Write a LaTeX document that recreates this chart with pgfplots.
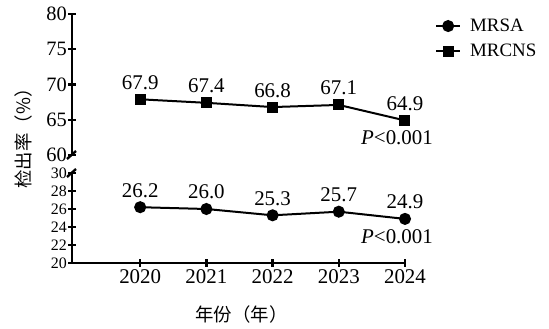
\documentclass[border=0pt]{standalone}
\usepackage{fontspec}
\setmainfont{Liberation Serif}
\newfontfamily\cjk{Noto Sans CJK SC}
\usepackage{pgfplots}
\pgfplotsset{compat=1.18}
\begin{document}
\begin{tikzpicture}
\useasboundingbox (-72bp,-66bp) rectangle (477bp,263bp);
\pgfplotsset{
 common/.style={
  scale only axis, width=333bp, clip=false,
  xmin=2018.97, xmax=2024,
  axis line style={-, line width=2.4bp},
  tick style={line width=2.4bp, black},
  major tick length=8bp,
  tick align=outside,
  /pgf/number format/assume math mode=true,
  xticklabel style={font=\fontsize{21}{21}\selectfont, inner sep=2bp, /pgf/number format/1000 sep={}},
  yticklabel style={font=\fontsize{20.5}{20.5}\selectfont, inner sep=0pt, xshift=-1bp},
  every axis plot/.append style={line width=2bp, black},
  nodes near coords={\pgfmathprintnumber[fixed,fixed zerofill,precision=1]{\pgfplotspointmeta}},
  point meta=y,
  every node near coord/.append style={font=\fontsize{21}{21}\selectfont, anchor=base, yshift=10bp, inner sep=0pt},
 }
}
% lower axis: MRSA
\begin{axis}[common, at={(0,0)}, anchor=south west, height=90bp,
  ymin=20, ymax=30, ytick={20,22,...,30},
  yticklabel style={font=\fontsize{16}{16}\selectfont},
  xtick={2020,2021,2022,2023,2024},
  axis x line=bottom, axis y line=left,
  x axis line style={-}, y axis line style={-}]
\addplot[mark=*, mark size=5bp] coordinates {(2020,26.2) (2021,26.0) (2022,25.3) (2023,25.7) (2024,24.9)};
\node[anchor=base, font=\fontsize{21}{21}\selectfont, inner sep=0pt, xshift=-8bp, yshift=-25bp] at (axis cs:2024,24.9) {\textit{P}<0.001};
\draw[line width=2.4bp] ([xshift=-5bp,yshift=-4bp]rel axis cs:0,1) -- ([xshift=4bp,yshift=4bp]rel axis cs:0,1);
\end{axis}
% upper axis: MRCNS
\begin{axis}[common, at={(0,108bp)}, anchor=south west, height=141bp,
  ymin=60, ymax=80, ytick={60,65,...,80},
  xtick=\empty,
  axis x line=none, axis y line=left,
  x axis line style={-}, y axis line style={-},
  legend style={at={(rel axis cs:1.09,0.98)}, anchor=north west, draw=none, fill=none,
    font=\fontsize{19}{19}\selectfont, row sep=7bp, inner sep=0pt,
    nodes={inner sep=2bp},
    /tikz/every odd column/.append style={column sep=7bp}},
  legend cell align=left,
  legend image code/.code={\draw[#1, mark repeat=2, mark phase=2] plot coordinates {(0bp,0bp) (12bp,0bp) (24bp,0bp)};}]
\addlegendimage{line width=2bp, black, mark=*, mark size=5bp}
\addlegendentry{MRSA}
\addplot[mark=square*, mark size=4.5bp] coordinates {(2020,67.9) (2021,67.4) (2022,66.8) (2023,67.1) (2024,64.9)};
\addlegendentry{MRCNS}
\node[anchor=base, font=\fontsize{21}{21}\selectfont, inner sep=0pt, xshift=-8bp, yshift=-24bp] at (axis cs:2024,64.9) {\textit{P}<0.001};
\draw[line width=2.4bp] ([xshift=-5bp,yshift=-4bp]rel axis cs:0,0) -- ([xshift=4bp,yshift=4bp]rel axis cs:0,0);
\end{axis}
\node[rotate=90, font=\cjk\fontsize{18.5}{18.5}\selectfont] at (-49bp,129bp) {检出率（\%）};
\node[font=\cjk\fontsize{18.5}{18.5}\selectfont] at (169.5bp,-51bp) {年份（年）};
\end{tikzpicture}
\end{document}
